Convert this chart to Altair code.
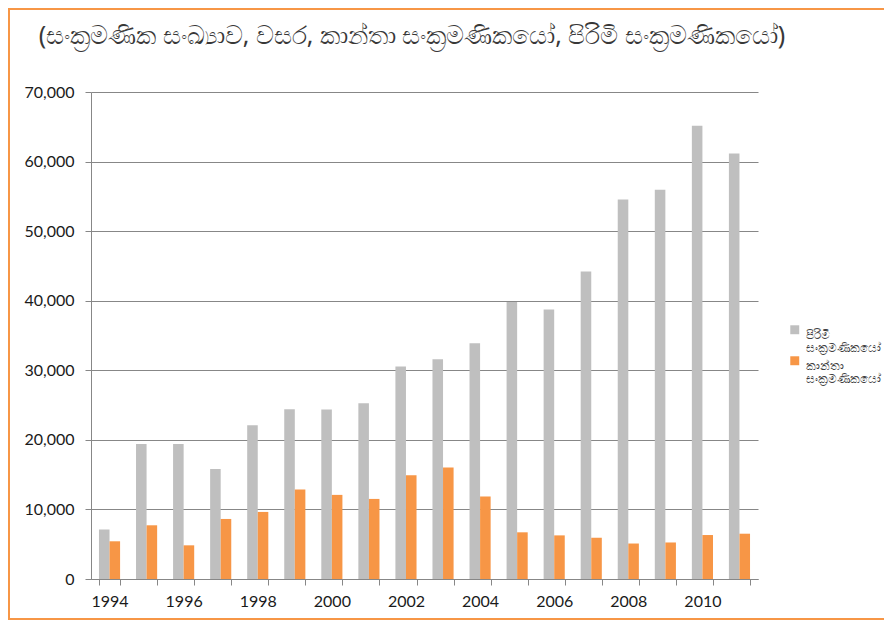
import altair as alt
import pandas as pd

years = [str(y) for y in range(1994, 2012)]
male = [7100, 19400, 19400, 15800, 22100, 24400, 24350, 25250, 30550, 31600,
        33900, 39800, 38750, 44200, 54550, 55950, 65150, 61150]
female = [5420, 7720, 4840, 8630, 9640, 12850, 12090, 11510, 14920, 16040,
          11860, 6710, 6270, 5930, 5100, 5250, 6320, 6510]
series_names = ["පිරිමි සංක්‍රමණිකයෝ", "කාන්තා සංක්‍රමණිකයෝ"]
colors = ["#BFBFBF", "#F79646"]
title_text = "(සංක්‍රමණික සංඛ්‍යාව, වසර, කාන්තා සංක්‍රමණිකයෝ, පිරිමි සංක්‍රමණිකයෝ)"
y_ticks = [0, 10000, 20000, 30000, 40000, 50000, 60000, 70000]

rows = []
for yr, m, f in zip(years, male, female):
    rows.append({"year": yr, "series": series_names[0], "value": m})
    rows.append({"year": yr, "series": series_names[1], "value": f})
df = pd.DataFrame(rows)

W, H = 667, 487
PL, PT, PR, PB = 83, 84, 126, 41
GRID = "#878787"
FONT = "Lato"

bars = alt.Chart(df).mark_bar().encode(
    x=alt.X("year:N", sort=years, title=None,
            scale=alt.Scale(paddingInner=0.43, paddingOuter=0.215),
            axis=alt.Axis(labelAngle=0, tickBand="extent",
                          labelExpr="toNumber(datum.label) % 2 == 0 ? datum.label : ''",
                          labelFont=FONT, labelFontSize=16, labelColor="#1a1a1a",
                          labelPadding=8, tickSize=6, tickColor=GRID,
                          domainColor=GRID, grid=False, labelOverlap=False)),
    xOffset=alt.XOffset("series:N", sort=series_names,
                        scale=alt.Scale(paddingInner=0, paddingOuter=0)),
    y=alt.Y("value:Q", title=None, scale=alt.Scale(domain=[0, 70000], nice=False),
            axis=alt.Axis(values=y_ticks, format=",.0f", labelFont=FONT, labelFontSize=16,
                          labelColor="#1a1a1a", labelPadding=11, tickSize=6,
                          tickColor=GRID, domainColor=GRID, gridColor=GRID)),
    color=alt.Color("series:N", sort=series_names,
                    scale=alt.Scale(domain=series_names, range=colors),
                    legend=alt.Legend(title=None, orient="none", legendX=698, legendY=232,
                                      symbolType="square", symbolSize=80,
                                      symbolStrokeWidth=0,
                                      labelExpr="split(datum.label, ' ')",
                                      labelFont="Noto Sans", labelFontSize=11.5,
                                      labelColor="#404040", rowPadding=0,
                                      labelBaseline="top", labelOffset=5)),
)

border = alt.Chart(alt.Data(values=[{}])).mark_rect(
    fill=None, stroke="#F79646", strokeWidth=2
).encode(
    x=alt.value(-PL + 1), x2=alt.value(W + PR + 20),
    y=alt.value(-PT + 1), y2=alt.value(H + PB - 1),
)

title = alt.Chart(alt.Data(values=[{}])).mark_text(
    font="Noto Sans", fontSize=24.8, color="#383838", align="center", baseline="middle"
).encode(
    x=alt.value(321), y=alt.value(-55), text=alt.value(title_text),
)

chart = alt.layer(bars, border, title).properties(
    width=W, height=H,
    autosize=alt.AutoSizeParams(type="none"),
    padding={"left": PL, "top": PT, "right": PR, "bottom": PB},
    background="white",
).configure_view(stroke=None)

chart.save("out.html", embed_options={"renderer": "svg", "actions": False})
